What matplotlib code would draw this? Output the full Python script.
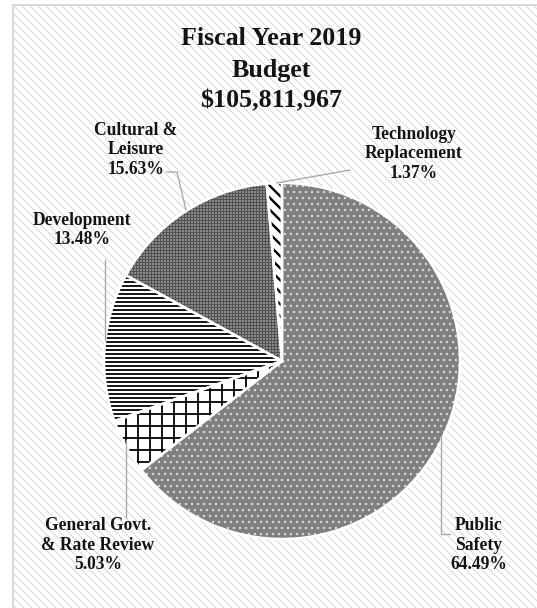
import matplotlib
matplotlib.use("Agg")
import matplotlib.pyplot as plt
from matplotlib.patches import Rectangle

plt.rcParams['font.family'] = ['Liberation Serif', 'DejaVu Serif']
plt.rcParams['hatch.linewidth'] = 1.5

W, H = 537, 608

# budget shares, clockwise from 12 o'clock
categories = ["Public\nSafety", "General Govt.\n& Rate Review", "Development",
              "Cultural &\nLeisure", "Technology\nReplacement"]
shares = [64.49, 5.03, 13.48, 15.63, 1.37]
title_lines = ["Fiscal Year 2019", "Budget", "$105,811,967"]

# fill styles per slice
face = ["#7f7f7f", "white", "white", "#8a8a8a", "white"]
hatches = ["..", "+", "---", "++++", "\\\\"]
hatch_col = ["#d4d4d4", "black", "black", "#505050", "black"]
hatch_lw = [1.3, 1.8, 1.8, 1.0, 2.4]

# label block centres and leader lines (pixel coords, y down)
label_pos = [(479, 545), (98, 545), (82, 230), (136, 150), (414, 154)]
leaders = [
    [(441, 437), (441, 534), (450, 534)],
    [(126, 440), (126, 518)],
    [(105, 260), (105, 340)],
    [(167, 172), (177, 172), (186, 210)],
    [(350, 170), (277, 183)],
]

fig = plt.figure(figsize=(W / 72, H / 72), dpi=72)
ax = fig.add_axes([0, 0, 1, 1])

# striped chart area with a thin grey frame
bg = Rectangle((13, -5), W, H, facecolor="white", edgecolor="#d6d6d6",
               hatch="\\\\\\", linewidth=0, zorder=0)
ax.add_patch(bg)
if hasattr(bg, "set_hatch_linewidth"):
    bg.set_hatch_linewidth(1.0)
ax.add_patch(Rectangle((13, -5), W, H, fill=False, edgecolor="#d9d9d9",
                       linewidth=2, zorder=0.5))

cx, cy, r = 282, H - 361, 178
wedges, _ = ax.pie(shares, center=(cx, cy), radius=r, startangle=90,
                   counterclock=False, colors=face, frame=True,
                   wedgeprops=dict(linewidth=0))
for w, h, c, lw in zip(wedges, hatches, hatch_col, hatch_lw):
    w.set_hatch(h)
    w.set_edgecolor(c)
    w.set_linewidth(0)
    if hasattr(w, "set_hatch_linewidth"):
        w.set_hatch_linewidth(lw)
    w.set_zorder(2)

# white separators between slices
outline, _ = ax.pie(shares, center=(cx, cy), radius=r, startangle=90,
                    counterclock=False, frame=True,
                    wedgeprops=dict(fill=False, edgecolor="white", linewidth=2.5))
for w in outline:
    w.set_zorder(3)

ax.set_xlim(0, W)
ax.set_ylim(0, H)
ax.set_aspect('equal')
ax.axis('off')

for pts in leaders:
    xs = [p[0] for p in pts]
    ys = [H - p[1] for p in pts]
    ax.plot(xs, ys, color="#a6a6a6", linewidth=1.3, zorder=4)

for cat, val, (x, y) in zip(categories, shares, label_pos):
    ax.text(x, H - y, f"{cat}\n{val:.2f}%", ha="center", va="center",
            fontsize=17.5, fontweight="bold", color="#141414",
            linespacing=1.22, zorder=5)

ax.text(271, H - 70, "\n".join(title_lines), ha="center", va="center",
        fontsize=26, fontweight="bold", color="#141414", linespacing=1.45,
        zorder=5)

fig.savefig("out.png", dpi=72)
